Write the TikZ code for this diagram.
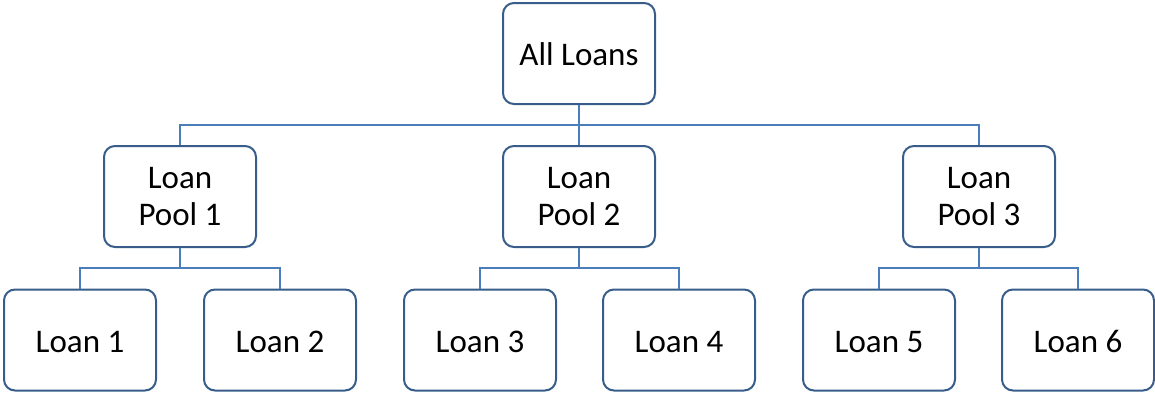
\documentclass[tikz,border=0pt]{standalone}
\usepackage{fontspec}
\setmainfont{Carlito}
\definecolor{boxblue}{HTML}{385D8A}
\definecolor{linkblue}{HTML}{4A7EBB}
\begin{document}
\begin{tikzpicture}[x=1pt,y=-1pt,
  box/.style={draw=boxblue, line width=2pt, rounded corners=11pt, fill=white,
    minimum width=152pt, minimum height=101pt, inner sep=0pt, align=center,
    font=\fontsize{33}{37}\selectfont},
  onebox/.style={box, text height=28pt, text depth=4pt},
  link/.style={draw=linkblue, line width=1.6pt}]
\useasboundingbox (0,0) rectangle (1155,394);
\node[onebox] (root) at (579,53.5) {All Loans};
\node[box] (p1) at (180,196.5) {Loan\\Pool 1};
\node[box] (p2) at (579,196.5) {Loan\\Pool 2};
\node[box] (p3) at (979,196.5) {Loan\\Pool 3};
\node[onebox] (l1) at (80,340) {Loan 1};
\node[onebox] (l2) at (280,340) {Loan 2};
\node[onebox] (l3) at (480,340) {Loan 3};
\node[onebox] (l4) at (679,340) {Loan 4};
\node[onebox] (l5) at (879,340) {Loan 5};
\node[onebox] (l6) at (1078,340) {Loan 6};
\foreach \c in {p1,p2,p3} \draw[link] (root.south) -- ++(0,20) -| (\c.north);
\foreach \p/\a/\b in {p1/l1/l2,p2/l3/l4,p3/l5/l6}{
  \draw[link] (\p.south) -- ++(0,20) -| (\a.north);
  \draw[link] (\p.south) -- ++(0,20) -| (\b.north);
}
\end{tikzpicture}
\end{document}
